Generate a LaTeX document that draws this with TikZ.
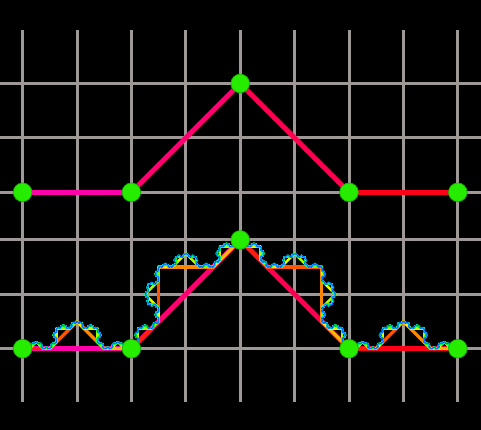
\documentclass[tikz,border=0pt]{standalone}
\usepackage{xcolor}
\definecolor{gridgray}{rgb}{0.62,0.60,0.59}
\definecolor{dotgreen}{rgb}{0.15,0.93,0.0}
\definecolor{dotedge}{rgb}{0.10,0.70,0.0}
\definecolor{c11}{HTML}{FF00AA}
\definecolor{c12}{HTML}{FF0070}
\definecolor{c13}{HTML}{FF0050}
\definecolor{c14}{HTML}{FF0018}
\definecolor{c21}{Hsb}{8,1,1}
\definecolor{c22}{Hsb}{20,1,1}
\definecolor{c23}{Hsb}{32,1,1}
\definecolor{c24}{Hsb}{44,1,1}
\definecolor{c31}{Hsb}{56,1,1}
\definecolor{c32}{Hsb}{68,1,1}
\definecolor{c33}{Hsb}{80,1,1}
\definecolor{c34}{Hsb}{92,1,1}
\definecolor{c41}{Hsb}{104,1,1}
\definecolor{c42}{Hsb}{116,1,1}
\definecolor{c43}{Hsb}{128,1,1}
\definecolor{c44}{Hsb}{140,1,1}
\definecolor{c51}{Hsb}{152,1,1}
\definecolor{c52}{Hsb}{164,1,1}
\definecolor{c53}{Hsb}{176,1,1}
\definecolor{c54}{Hsb}{188,1,1}
\definecolor{c61}{Hsb}{196,1,1}
\definecolor{c62}{Hsb}{206,1,1}
\definecolor{c63}{Hsb}{216,1,1}
\definecolor{c64}{Hsb}{226,1,1}
\tikzset{
  gridline/.style={draw=gridgray,line width=3pt},
  genline/.style={line width=5pt},
  lvl1/.style={line width=5pt},
  lvl2/.style={line width=3.2pt,line cap=round},
  lvl3/.style={line width=2.5pt,line cap=round},
  lvl4/.style={line width=2pt,line cap=round},
  lvl5/.style={line width=1.5pt,line cap=round},
  lvl6/.style={line width=0.7pt,line cap=round},
  gdot/.style={circle,fill=dotgreen,draw=dotedge,line width=0.7pt,minimum size=18.6pt,inner sep=0pt}
}
% recursive fractal segment: #1 current level, #2 target level, #3 digit, #4-#7 endpoints
\newcommand\kochseg[7]{%
  \ifnum#1=#2\relax
    \draw[lvl#2,c#2#3] (#4,#5) -- (#6,#7);%
  \else
    \begingroup
    \edef\kdx{\the\dimexpr(#6-#4)/8\relax}%
    \edef\kdy{\the\dimexpr(#7-#5)/8\relax}%
    \edef\kpax{\the\dimexpr#4+\kdx*2\relax}%
    \edef\kpay{\the\dimexpr#5+\kdy*2\relax}%
    \edef\kpbx{\the\dimexpr#4+\kdx*4-\kdy*2\relax}%
    \edef\kpby{\the\dimexpr#5+\kdy*4+\kdx*2\relax}%
    \edef\kpcx{\the\dimexpr#4+\kdx*6\relax}%
    \edef\kpcy{\the\dimexpr#5+\kdy*6\relax}%
    \edef\knext{\the\numexpr#1+1\relax}%
    \edef\kdo{%
      \noexpand\kochseg{\knext}{#2}{1}{#4}{#5}{\kpax}{\kpay}%
      \noexpand\kochseg{\knext}{#2}{2}{\kpax}{\kpay}{\kpbx}{\kpby}%
      \noexpand\kochseg{\knext}{#2}{3}{\kpbx}{\kpby}{\kpcx}{\kpcy}%
      \noexpand\kochseg{\knext}{#2}{4}{\kpcx}{\kpcy}{#6}{#7}}%
    \kdo
    \endgroup
  \fi}
\newcommand\kochlevel[1]{%
  \kochseg{1}{#1}{1}{0pt}{0pt}{108.8pt}{0pt}%
  \kochseg{1}{#1}{2}{108.8pt}{0pt}{217.6pt}{108.8pt}%
  \kochseg{1}{#1}{3}{217.6pt}{108.8pt}{326.4pt}{0pt}%
  \kochseg{1}{#1}{4}{326.4pt}{0pt}{435.2pt}{0pt}}
\begin{document}
\begin{tikzpicture}
\useasboundingbox (0pt,0pt) rectangle (481pt,430pt);
\fill[black] (0pt,0pt) rectangle (481pt,430pt);
% grid
\foreach \k in {0,...,8}
  \draw[gridline] (22.6pt+\k*54.4pt,28pt) -- (22.6pt+\k*54.4pt,400pt);
\foreach \yy in {346.5,292.1,237.7,190.1,135.7,81.3}
  \draw[gridline] (0pt,\yy pt) -- (481pt,\yy pt);
% top generator
\begin{scope}[shift={(22.6pt,237.7pt)}]
  \coordinate (t0) at (0pt,0pt);
  \coordinate (t1) at (108.8pt,0pt);
  \coordinate (t2) at (217.6pt,108.8pt);
  \coordinate (t3) at (326.4pt,0pt);
  \coordinate (t4) at (435.2pt,0pt);
\end{scope}
\draw[genline,c11] (t0) -- (t1);
\draw[genline,c12] (t1) -- (t2);
\draw[genline,c13] (t2) -- (t3);
\draw[genline,c14] (t3) -- (t4);
% bottom fractal
\begin{scope}[shift={(22.6pt,81.3pt)}]
  \coordinate (b0) at (0pt,0pt);
  \coordinate (b1) at (108.8pt,0pt);
  \coordinate (b2) at (217.6pt,108.8pt);
  \coordinate (b3) at (326.4pt,0pt);
  \coordinate (b4) at (435.2pt,0pt);
  \kochlevel{1}
  \kochlevel{2}
  \kochlevel{3}
  \kochlevel{4}
  \kochlevel{5}
  \kochlevel{6}
\end{scope}
% dots
\foreach \p in {t0,t1,t2,t3,t4,b0,b1,b2,b3,b4}
  \node[gdot] (dot\p) at (\p) {};
\end{tikzpicture}
\end{document}
